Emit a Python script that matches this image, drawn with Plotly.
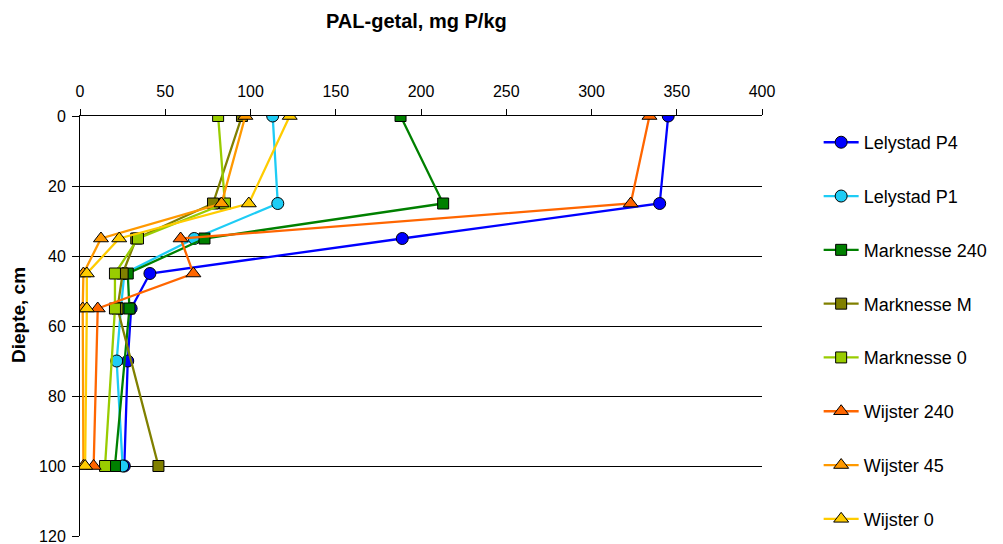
import plotly.graph_objects as go

# depths (cm)
depth_lely = [0, 25, 35, 45, 55, 70, 100]
depth_other = [0, 25, 35, 45, 55, 100]

# PAL-getal values (mg P/kg)
lelystad_p4 = [345, 340, 189, 41, 30, 28, 26]
lelystad_p1 = [113, 116, 67, 26, 24, 21.5, 25]
marknesse_240 = [188, 213, 73, 28, 29, 20.5]
marknesse_m = [95, 78, 33, 25, 22, 46]
marknesse_0 = [81, 85, 34, 20.5, 20.5, 14.7]
wijster_240 = [334, 323, 59, 66.5, 10.4, 8]
wijster_45 = [97, 83, 12.3, 2, 1.6, 2]
wijster_0 = [123, 99, 23, 4, 4, 3]

x_ticks = [0, 50, 100, 150, 200, 250, 300, 350, 400]
y_ticks = [0, 20, 40, 60, 80, 100, 120]
grid_ticks = [20, 40, 60, 80, 100]

series = [
    ("Lelystad P4", lelystad_p4, depth_lely, "#0000FF", "circle", 12),
    ("Lelystad P1", lelystad_p1, depth_lely, "#1ECCF5", "circle", 12),
    ("Marknesse 240", marknesse_240, depth_other, "#008000", "square", 11),
    ("Marknesse M", marknesse_m, depth_other, "#808000", "square", 11),
    ("Marknesse 0", marknesse_0, depth_other, "#99CC00", "square", 11),
    ("Wijster 240", wijster_240, depth_other, "#FF6600", "triangle-up", 13),
    ("Wijster 45", wijster_45, depth_other, "#FF9900", "triangle-up", 13),
    ("Wijster 0", wijster_0, depth_other, "#FFCC00", "triangle-up", 13),
]

fig = go.Figure()
# invisible helper trace so the grid-only overlay axis is drawn
fig.add_trace(go.Scatter(x=[None], y=[None], yaxis="y2", showlegend=False,
                         hoverinfo="skip", mode="markers"))
for i, (name, xs, ys, color, sym, size) in enumerate(series):
    fig.add_trace(go.Scatter(
        x=xs, y=ys, name=name, mode="lines+markers",
        line=dict(color=color, width=2.3),
        marker=dict(symbol=sym, size=size, color=color,
                    line=dict(color="black", width=1)),
        legendgroup="g%d" % i,
    ))

font_family = "Liberation Sans, Arial, sans-serif"

fig.update_layout(
    width=1003, height=544,
    margin=dict(l=80, r=241, t=116, b=8, autoexpand=False),
    paper_bgcolor="white", plot_bgcolor="white",
    font=dict(family=font_family, size=16, color="black"),
    showlegend=True,
    legend=dict(
        xref="container", yref="container",
        x=0.8162, y=0.772, xanchor="left", yanchor="top",
        font=dict(size=18, family=font_family, color="black"),
        tracegroupgap=27.4, bgcolor="rgba(0,0,0,0)", itemwidth=35,
        maxheight=1,
    ),
    xaxis=dict(
        side="top", range=[0, 400], tickvals=x_ticks,
        ticks="outside", ticklen=6, tickcolor="black",
        showline=True, linecolor="black", linewidth=1,
        showgrid=False, zeroline=False, automargin=False,
        tickfont=dict(size=16), ticklabelstandoff=6,
        ticklabeloverflow="allow",
    ),
    yaxis=dict(
        range=[120, 0], tickvals=y_ticks,
        ticks="outside", ticklen=7, tickcolor="black",
        showline=True, linecolor="black", linewidth=1,
        showgrid=False, zeroline=False, automargin=False,
        tickfont=dict(size=16), ticklabelstandoff=3,
        ticklabeloverflow="allow",
    ),
    yaxis2=dict(
        overlaying="y", range=[120, 0], tickvals=grid_ticks,
        showticklabels=False, ticks="", showgrid=True,
        gridcolor="black", gridwidth=1, zeroline=False, showline=False,
        automargin=False,
    ),
    annotations=[
        dict(
            text="<b>PAL-getal, mg P/kg</b>", x=0.5, xref="paper",
            y=1, yref="paper", xshift=-5, yshift=95, showarrow=False,
            font=dict(size=20, family=font_family, color="black"),
            xanchor="center", yanchor="middle",
        ),
        dict(
            text="<b>Diepte, cm</b>", x=0, xref="paper",
            y=0.5, yref="paper", xshift=-62, yshift=11, showarrow=False,
            textangle=-90,
            font=dict(size=19, family=font_family, color="black"),
            xanchor="center", yanchor="middle",
        ),
    ],
)

fig.write_html("out.html")
